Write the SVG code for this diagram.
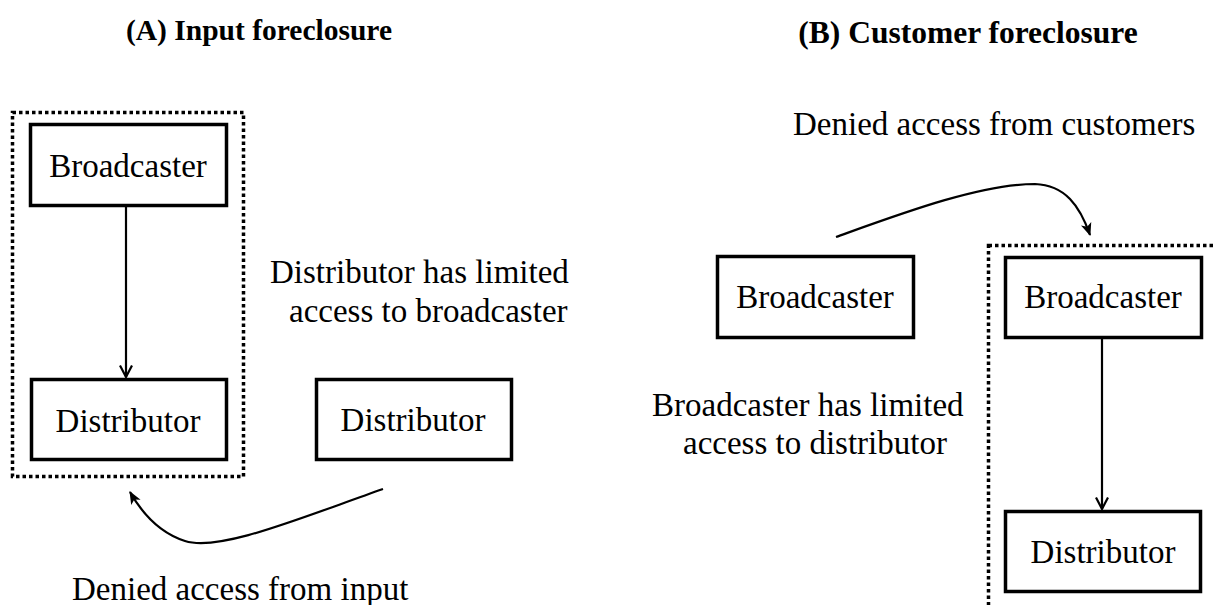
<svg xmlns="http://www.w3.org/2000/svg" width="1214" height="605" viewBox="0 0 1214 605">
  <defs>
    <style>
      .box { fill: #fff; stroke: #000; stroke-width: 3.5; }
      .group { fill: none; stroke: #000; stroke-width: 3.5; stroke-dasharray: 3.5 3; }
      .lbl { font-family: "Liberation Serif", "Times New Roman", serif; font-size: 33px; fill: #000; }
      .title { font-family: "Liberation Serif", "Times New Roman", serif; font-weight: bold; fill: #000; }
      .edge { fill: none; stroke: #000; stroke-width: 2.2; }
    </style>
    <marker id="open" viewBox="0 0 14 14" refX="12.5" refY="7" markerWidth="14" markerHeight="14" markerUnits="userSpaceOnUse" orient="auto">
      <path d="M1,1 L12.5,7 L1,13" fill="none" stroke="#000" stroke-width="2.2"/>
    </marker>
    <marker id="solid" viewBox="0 0 12 12" refX="11" refY="6" markerWidth="13" markerHeight="13" markerUnits="userSpaceOnUse" orient="auto">
      <path d="M0,1 L12,6 L0,11 L3,6 Z" fill="#000"/>
    </marker>
  </defs>
  <rect width="1214" height="605" fill="#fff"/>

  <!-- Titles -->
  <text class="title" x="259" y="40" font-size="29.5" text-anchor="middle">(A) Input foreclosure</text>
  <text class="title" x="968" y="43" font-size="31.5" text-anchor="middle">(B) Customer foreclosure</text>

  <!-- Panel A: integrated firm boundary -->
  <g id="mergedA">
    <rect class="group" x="12.5" y="112.5" width="231" height="364"/>
  </g>
  <g id="broadcasterA">
    <rect class="box" x="30.5" y="124.5" width="196" height="81"/>
    <text class="lbl" x="128" y="177" text-anchor="middle">Broadcaster</text>
  </g>
  <g id="distributorA1">
    <rect class="box" x="31.5" y="379.5" width="195" height="80"/>
    <text class="lbl" x="128" y="432" text-anchor="middle">Distributor</text>
  </g>
  <g id="distributorA2">
    <rect class="box" x="316.5" y="379.5" width="195" height="80"/>
    <text class="lbl" x="413" y="431" text-anchor="middle">Distributor</text>
  </g>

  <!-- Panel B: integrated firm boundary (runs off the page edge) -->
  <g id="mergedB">
    <rect class="group" x="988.5" y="245.5" width="300" height="400"/>
  </g>
  <g id="broadcasterB1">
    <rect class="box" x="717.5" y="256.5" width="196" height="81"/>
    <text class="lbl" x="815" y="308" text-anchor="middle">Broadcaster</text>
  </g>
  <g id="broadcasterB2">
    <rect class="box" x="1005.5" y="257.5" width="196" height="80"/>
    <text class="lbl" x="1103" y="308" text-anchor="middle">Broadcaster</text>
  </g>
  <g id="distributorB">
    <rect class="box" x="1005.5" y="511.5" width="195" height="80"/>
    <text class="lbl" x="1103" y="563" text-anchor="middle">Distributor</text>
  </g>

  <!-- Annotations -->
  <g id="notes">
    <text class="lbl" x="270" y="283">Distributor has limited</text>
    <text class="lbl" x="289" y="322">access to broadcaster</text>
    <text class="lbl" x="652" y="416">Broadcaster has limited</text>
    <text class="lbl" x="683" y="454">access to distributor</text>
    <text class="lbl" x="793" y="135">Denied access from customers</text>
    <text class="lbl" x="72" y="600">Denied access from input</text>
  </g>

  <!-- Connectors -->
  <g id="connectors">
    <line class="edge" x1="126" y1="207" x2="126" y2="377" marker-end="url(#open)"/>
    <line class="edge" x1="1102" y1="339" x2="1102" y2="509" marker-end="url(#open)"/>
    <path class="edge" d="M383,489 C300,518 220,552 185,541 C160,533 142,513 130,492" marker-end="url(#solid)"/>
    <path class="edge" d="M836,237 C900,214 980,184 1035,184 C1065,185 1080,206 1090,235" marker-end="url(#solid)"/>
  </g>
</svg>
